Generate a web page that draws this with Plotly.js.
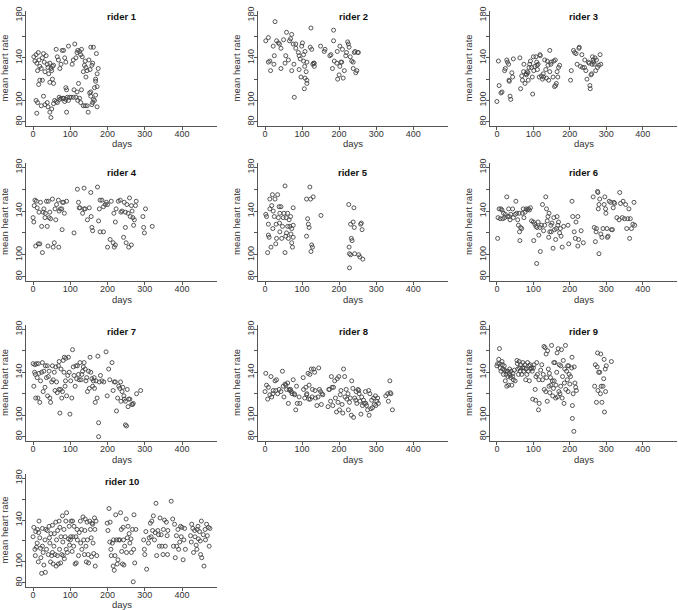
<!DOCTYPE html>
<html>
<head>
<meta charset="utf-8">
<script src="https://cdn.plot.ly/plotly-3.0.1.min.js"></script>
<style>html,body{margin:0;padding:0;background:#fff;}#chart{width:678px;height:610px;}</style>
</head>
<body>
<div id="chart"></div>
<script>
// ---------------- data ----------------
const riderNames = ["rider 1","rider 2","rider 3","rider 4","rider 5","rider 6","rider 7","rider 8","rider 9","rider 10"];
const xTickVals = [0,100,200,300,400];
const yTickVals = [80,100,120,140,160,180];
const yTickText = ["80","100","","140","","180"];
const xLabel = "days";
const yLabel = "mean heart rate";

const days1 = [2,5,8,10,12,14,16,18,22,25,28,30,32,35,38,40,42,45,48,50,52,55,62,65,68,72,75,78,82,85,88,95,105,108,112,115,118,120,125,128,130,132,135,138,140,142,145,150,153,155,158,160,162,168,170,172,175,
15,18,25,45,52,55,88,90,110,118,122,130,142,155,165,172,168,
8,10,12,22,28,32,38,40,45,48,50,55,58,62,65,70,72,75,80,82,85,88,90,92,95,98,102,108,115,120,125,128,135,140,145,148,152,155,158,160,162,165,168,172];
const hr1 = [141,137,143,135,128,145,138,132,130,140,144,136,127,142,134,131,125,135,130,128,132,133,148,141,138,130,134,147,147,140,136,151,134,138,153,140,145,147,146,143,148,141,127,133,137,131,128,138,129,150,133,135,150,120,144,125,130,
115,119,119,117,120,116,112,110,110,108,116,110,122,108,112,113,118,
100,88,98,95,104,96,98,94,89,84,92,97,100,99,98,103,101,102,102,102,99,101,89,103,100,103,103,103,103,100,102,98,95,95,95,89,107,104,96,98,101,100,105,94];

const days2 = [2,9,27,22,13,9,15,24,25,31,39,36,43,43,50,54,56,58,63,66,69,72,72,76,78,79,83,83,90,92,92,95,97,99,101,104,104,106,107,108,108,111,113,113,113,122,124,126,129,131,133,133,150,160,162,175,178,182,185,185,187,194,195,196,200,202,202,205,207,209,211,214,218,220,223,225,227,230,234,238,238,241,243,245,248,250,252];
const hr2 = [156,159,174,151,137,136,128,134,142,156,153,154,149,130,157,135,142,164,138,156,158,162,128,153,134,103,149,153,145,142,129,139,122,151,154,137,143,111,132,146,121,127,119,136,116,150,168,148,134,135,132,135,151,146,148,142,143,130,166,156,137,135,146,120,124,132,151,136,136,148,121,128,142,145,155,153,150,141,137,130,136,145,146,126,128,145,145];

const days3 = [0,4,6,11,14,21,23,27,29,32,33,34,36,38,41,43,45,63,65,68,70,73,74,77,80,81,83,85,86,88,90,92,95,97,98,100,101,104,107,109,110,111,113,116,118,119,122,125,127,128,131,134,136,138,140,142,145,145,148,149,154,156,158,160,161,163,165,167,169,172,202,204,210,213,217,220,225,226,229,233,235,240,241,244,247,251,253,255,256,258,260,261,262,264,265,267,269,271,273,276,280,283,285];
const hr3 = [99,137,114,107,108,128,130,138,136,134,119,118,104,101,126,122,139,140,111,123,119,127,134,116,125,124,127,126,119,131,134,137,131,122,106,141,128,132,141,136,133,129,134,122,143,142,123,120,125,122,138,129,121,137,133,119,147,127,134,136,122,137,113,138,114,116,127,122,131,133,119,128,147,145,144,134,149,150,132,143,131,131,138,128,120,136,135,114,111,124,125,134,141,138,136,134,140,128,138,131,133,143,134];

const days4 = [0,2,3,5,7,9,11,14,16,18,20,23,25,27,29,32,33,36,38,40,41,43,45,47,52,54,57,59,61,63,68,69,70,73,77,78,79,82,84,90,110,119,122,124,126,133,137,137,140,146,151,155,156,158,160,173,176,178,180,180,185,189,189,194,197,200,200,207,210,215,217,218,221,221,223,229,234,236,239,243,245,248,248,250,252,255,257,259,261,264,264,266,268,270,272,275,277,295,297,299,302,320];
const hr4 = [134,130,145,150,108,149,143,110,139,110,148,126,102,139,142,134,138,149,126,108,149,134,139,133,151,107,111,142,132,146,150,107,140,142,142,123,148,148,138,149,120,160,148,143,143,138,161,142,142,132,143,157,135,125,122,162,131,142,150,121,150,121,144,146,148,146,107,114,149,111,138,107,130,109,142,149,150,139,140,116,148,125,139,111,146,138,107,152,135,145,109,140,134,127,132,145,149,135,125,120,142,126];

const days5 = [4,2,7,9,9,11,13,13,16,18,20,21,22,25,27,29,30,31,34,36,38,39,40,40,43,45,47,49,51,54,54,56,57,58,61,61,63,65,67,69,70,72,72,74,76,76,76,112,112,115,117,119,121,123,124,126,128,130,151,226,227,228,228,231,231,233,235,238,240,241,242,253,256,258,260,262,264];
const hr5 = [135,137,102,128,118,116,142,151,107,145,155,124,140,135,151,110,128,115,155,134,144,129,121,138,144,115,126,134,138,163,102,117,134,120,126,138,115,132,126,135,119,124,111,107,116,127,143,151,117,133,128,125,162,151,103,109,107,153,136,146,107,88,101,100,128,115,113,130,143,125,101,100,98,128,129,123,96];

const days6 = [2,3,6,9,11,14,16,18,21,23,27,29,32,34,36,38,43,45,50,52,54,57,59,61,62,63,65,68,70,72,74,77,80,83,86,89,92,95,100,101,104,107,109,110,113,115,118,119,122,125,128,131,134,136,138,140,142,143,145,148,149,151,154,156,158,161,163,165,167,169,172,174,176,179,183,195,197,206,208,212,215,217,222,224,222,231,237,264,267,270,272,273,276,277,278,280,280,282,285,288,291,294,296,298,299,302,303,305,308,312,314,317,319,321,323,329,335,337,339,344,346,350,353,356,359,362,364,366,369,373,376,378];
const hr6 = [115,134,142,133,142,141,133,138,134,137,153,135,142,135,132,137,142,134,137,149,138,132,127,138,121,113,125,124,138,142,134,139,142,141,142,141,143,131,130,113,128,126,92,125,130,118,125,103,127,146,122,127,153,142,131,135,116,138,121,127,121,129,106,134,123,114,124,135,127,130,120,124,117,107,126,127,110,149,135,121,115,130,108,114,135,122,111,153,125,112,121,124,158,157,142,146,101,151,119,116,124,146,153,142,138,124,116,117,149,148,123,123,143,148,147,134,132,157,147,134,149,133,146,124,133,142,115,133,124,128,148,127];

const days7 = [0,2,4,5,6,7,9,11,13,14,16,18,20,23,25,27,29,32,33,36,38,39,41,43,45,47,50,52,54,57,59,61,63,65,68,70,70,72,74,75,77,79,81,83,84,86,87,88,90,93,95,97,99,101,104,106,108,110,113,115,117,119,122,124,126,129,131,133,135,137,140,142,144,146,149,151,153,155,158,160,162,164,165,167,169,172,174,176,176,178,181,185,190,196,199,203,206,212,215,218,221,224,227,230,233,235,236,239,241,244,245,248,248,251,253,255,257,260,265,267,269,278,289];
const hr7 = [148,127,140,147,138,116,148,135,116,148,139,112,132,140,149,122,141,126,146,135,146,118,136,141,116,112,131,146,133,140,123,145,131,121,146,124,150,102,124,143,116,122,151,140,154,127,132,153,118,137,154,140,101,132,116,161,145,137,127,146,134,146,138,133,149,133,138,141,145,149,143,132,135,122,141,125,154,140,134,127,132,135,125,112,132,116,155,93,80,131,137,132,131,159,118,143,133,149,123,131,131,104,116,127,125,131,113,122,126,118,115,113,91,90,124,108,115,115,110,110,111,120,123];

const days8 = [0,2,4,7,9,13,16,18,21,22,27,29,31,34,38,43,47,49,51,54,56,58,61,63,65,67,69,71,73,76,79,80,83,85,87,92,94,103,104,107,110,112,113,116,118,119,121,122,125,127,128,131,134,135,136,140,143,145,147,150,152,154,156,170,172,174,177,179,181,183,185,188,190,193,195,197,199,201,203,205,208,210,212,215,216,219,221,224,225,228,230,233,234,237,239,242,245,246,248,251,253,254,256,259,261,263,266,268,271,272,274,277,280,281,283,286,288,290,293,295,298,299,302,304,306,326,331,333,337,338,340,344];
const hr8 = [122,139,128,115,126,119,136,117,120,123,132,123,133,120,124,122,141,127,117,129,128,124,130,111,124,123,124,122,120,133,120,119,105,127,111,117,111,135,124,116,126,119,120,139,115,128,138,115,143,117,124,143,140,123,116,109,117,144,124,122,110,120,119,108,124,124,113,136,126,109,126,132,116,103,134,112,136,105,119,123,110,102,143,136,117,124,115,120,105,112,116,100,132,125,98,116,114,122,111,124,123,120,113,101,117,109,114,111,122,111,109,105,123,100,120,106,114,107,116,110,118,109,113,116,111,118,120,113,132,121,120,105];

const days9 = [0,2,5,7,7,9,11,14,15,16,18,20,21,23,25,25,27,29,30,32,34,35,36,38,39,41,43,44,45,48,50,55,56,57,59,61,62,64,65,68,70,71,73,75,77,79,80,82,84,86,88,89,91,93,95,97,98,100,102,105,106,107,109,111,114,115,116,120,123,125,127,129,130,132,134,135,136,138,139,141,143,144,145,147,148,150,152,153,155,156,157,159,161,162,164,165,166,168,170,171,173,175,175,177,179,180,182,184,185,186,188,189,191,193,194,195,197,198,200,202,205,206,207,207,209,211,212,214,216,218,268,270,273,275,276,277,279,282,284,285,286,288,291,293,294,295,297,298,300,314];
const hr9 = [146,148,152,162,148,144,141,150,147,143,138,146,142,132,141,138,127,141,136,128,139,143,137,135,141,128,136,139,133,142,132,151,148,143,138,150,144,141,147,138,144,149,141,144,147,133,143,138,149,141,146,132,147,143,144,141,115,144,147,124,114,136,149,138,105,133,111,142,147,133,138,164,124,163,122,157,135,113,160,143,127,139,121,135,128,165,132,118,125,149,132,149,116,128,140,158,117,162,122,147,120,146,127,161,116,136,151,111,130,143,165,124,141,133,146,122,146,138,129,136,144,154,109,97,120,85,145,130,126,123,127,147,112,145,158,123,140,140,120,157,127,112,127,134,152,103,143,122,146,150];

const days10 = [0,2,5,6,7,9,11,12,14,15,16,18,20,21,23,25,25,27,29,32,33,34,36,38,41,43,44,45,47,48,50,52,52,54,56,57,59,61,62,63,65,66,68,70,71,72,74,75,77,79,80,81,83,84,86,88,89,90,92,95,97,98,100,101,102,105,106,107,109,110,113,115,116,118,119,122,124,127,128,130,131,134,136,138,139,140,142,143,145,146,148,149,152,154,156,157,158,160,161,163,165,166,167,169,171,
199,201,204,206,207,209,210,213,215,216,218,220,222,224,226,228,230,233,235,237,238,240,242,243,244,246,250,251,253,255,258,260,263,264,267,269,270,271,273,276,
297,299,300,303,305,310,312,315,317,319,321,323,326,328,330,332,335,337,339,341,344,346,349,350,353,355,358,360,361,362,371,375,377,380,382,385,386,389,391,394,396,398,400,403,405,407,409,423,425,426,429,431,434,435,438,440,441,443,444,447,449,450,452,453,457,459,462,463,466,468,471,473,475];
const hr10 = [124,133,112,106,129,114,118,131,100,128,139,123,113,104,89,115,132,109,97,121,90,131,112,130,107,134,123,118,100,127,106,135,109,98,115,127,107,138,96,121,106,130,98,139,112,133,99,124,107,144,119,106,131,103,124,139,112,147,109,122,134,116,121,124,139,110,139,124,115,134,98,124,99,131,121,106,128,139,118,131,112,143,121,107,130,141,115,100,138,121,107,99,139,131,123,105,137,136,118,108,142,131,96,139,106,
137,130,151,119,138,112,106,118,96,121,92,106,145,121,98,102,121,121,147,131,110,98,133,121,97,115,141,109,123,134,127,118,122,109,131,81,112,145,99,131,
121,112,107,129,93,118,123,137,124,139,130,144,121,128,156,106,130,126,115,142,126,115,107,131,140,115,138,125,107,130,158,141,115,136,104,125,115,131,112,119,134,124,133,102,121,132,112,125,119,136,132,109,130,124,116,112,131,134,122,129,120,107,139,104,126,96,131,121,136,125,133,115,132];

const allDays = [days1,days2,days3,days4,days5,days6,days7,days8,days9,days10];
const allHr = [hr1,hr2,hr3,hr4,hr5,hr6,hr7,hr8,hr9,hr10];

// ---------------- layout ----------------
const W = 678, H = 610;
const colPx = [[26,217],[258,448],[490,677]];
const rowPx = [[11,126],[163,281],[325,441],[474,587]];
const titleY = [16,172,331,481];
const font = "Liberation Sans, Arial, sans-serif";
const axCol = "#555";
const txtCol = "#333";

const traces = [];
const layout = {
  width: W, height: H,
  margin: {l:0, r:0, t:0, b:0},
  paper_bgcolor: "#fff", plot_bgcolor: "#fff",
  showlegend: false,
  font: {family: font, size: 9, color: txtCol},
  annotations: []
};

for (let i = 0; i < riderNames.length; i++) {
  const n = i + 1;
  const r = Math.floor(i / 3), c = i % 3;
  const xk = n === 1 ? "xaxis" : "xaxis" + n;
  const yk = n === 1 ? "yaxis" : "yaxis" + n;
  const xa = n === 1 ? "x" : "x" + n;
  const ya = n === 1 ? "y" : "y" + n;
  traces.push({
    type: "scatter", mode: "markers",
    x: allDays[i], y: allHr[i],
    xaxis: xa, yaxis: ya,
    marker: {symbol: "circle-open", size: 4, color: "#444", line: {width: 0.9}},
    hoverinfo: "x+y"
  });
  layout[xk] = {
    domain: [colPx[c][0] / W, colPx[c][1] / W],
    range: [-19, 494], anchor: ya,
    tickmode: "array", tickvals: xTickVals,
    ticks: "outside", ticklen: 3, tickwidth: 1, tickcolor: axCol,
    ticklabelstandoff: -4,
    showline: true, linecolor: axCol, linewidth: 1,
    showgrid: false, zeroline: false,
    tickfont: {family: font, size: 9, color: txtCol},
    fixedrange: true
  };
  layout[yk] = {
    domain: [1 - rowPx[r][1] / H, 1 - rowPx[r][0] / H],
    range: [76, 184], anchor: xa,
    tickmode: "array", tickvals: yTickVals, ticktext: yTickText,
    tickangle: -90,
    ticks: "outside", ticklen: 3, tickwidth: 1, tickcolor: axCol,
    ticklabelstandoff: -4,
    showline: true, linecolor: axCol, linewidth: 1,
    showgrid: false, zeroline: false,
    tickfont: {family: font, size: 9, color: txtCol},
    fixedrange: true
  };
  const cx = (colPx[c][0] + colPx[c][1]) / 2 / W;
  layout.annotations.push({
    text: "<b>" + riderNames[i] + "</b>", xref: "paper", yref: "paper",
    x: cx, y: 1 - titleY[r] / H, xanchor: "center", yanchor: "middle",
    showarrow: false, font: {family: font, size: 9.5, color: "#111"}
  });
  const daysY = Math.min(rowPx[r][1] + 18, H - 6);
  layout.annotations.push({
    text: xLabel, xref: "paper", yref: "paper",
    x: cx, y: 1 - daysY / H, xanchor: "center", yanchor: "middle",
    showarrow: false, font: {family: font, size: 9.5, color: txtCol}
  });
  layout.annotations.push({
    text: yLabel, xref: "paper", yref: "paper", textangle: -90,
    x: (colPx[c][0] - 22) / W, y: 1 - (rowPx[r][0] + rowPx[r][1]) / 2 / H,
    xanchor: "center", yanchor: "middle",
    showarrow: false, font: {family: font, size: 9.5, color: txtCol}
  });
}

Plotly.newPlot("chart", traces, layout, {displayModeBar: false, staticPlot: true});
</script>
</body>
</html>
